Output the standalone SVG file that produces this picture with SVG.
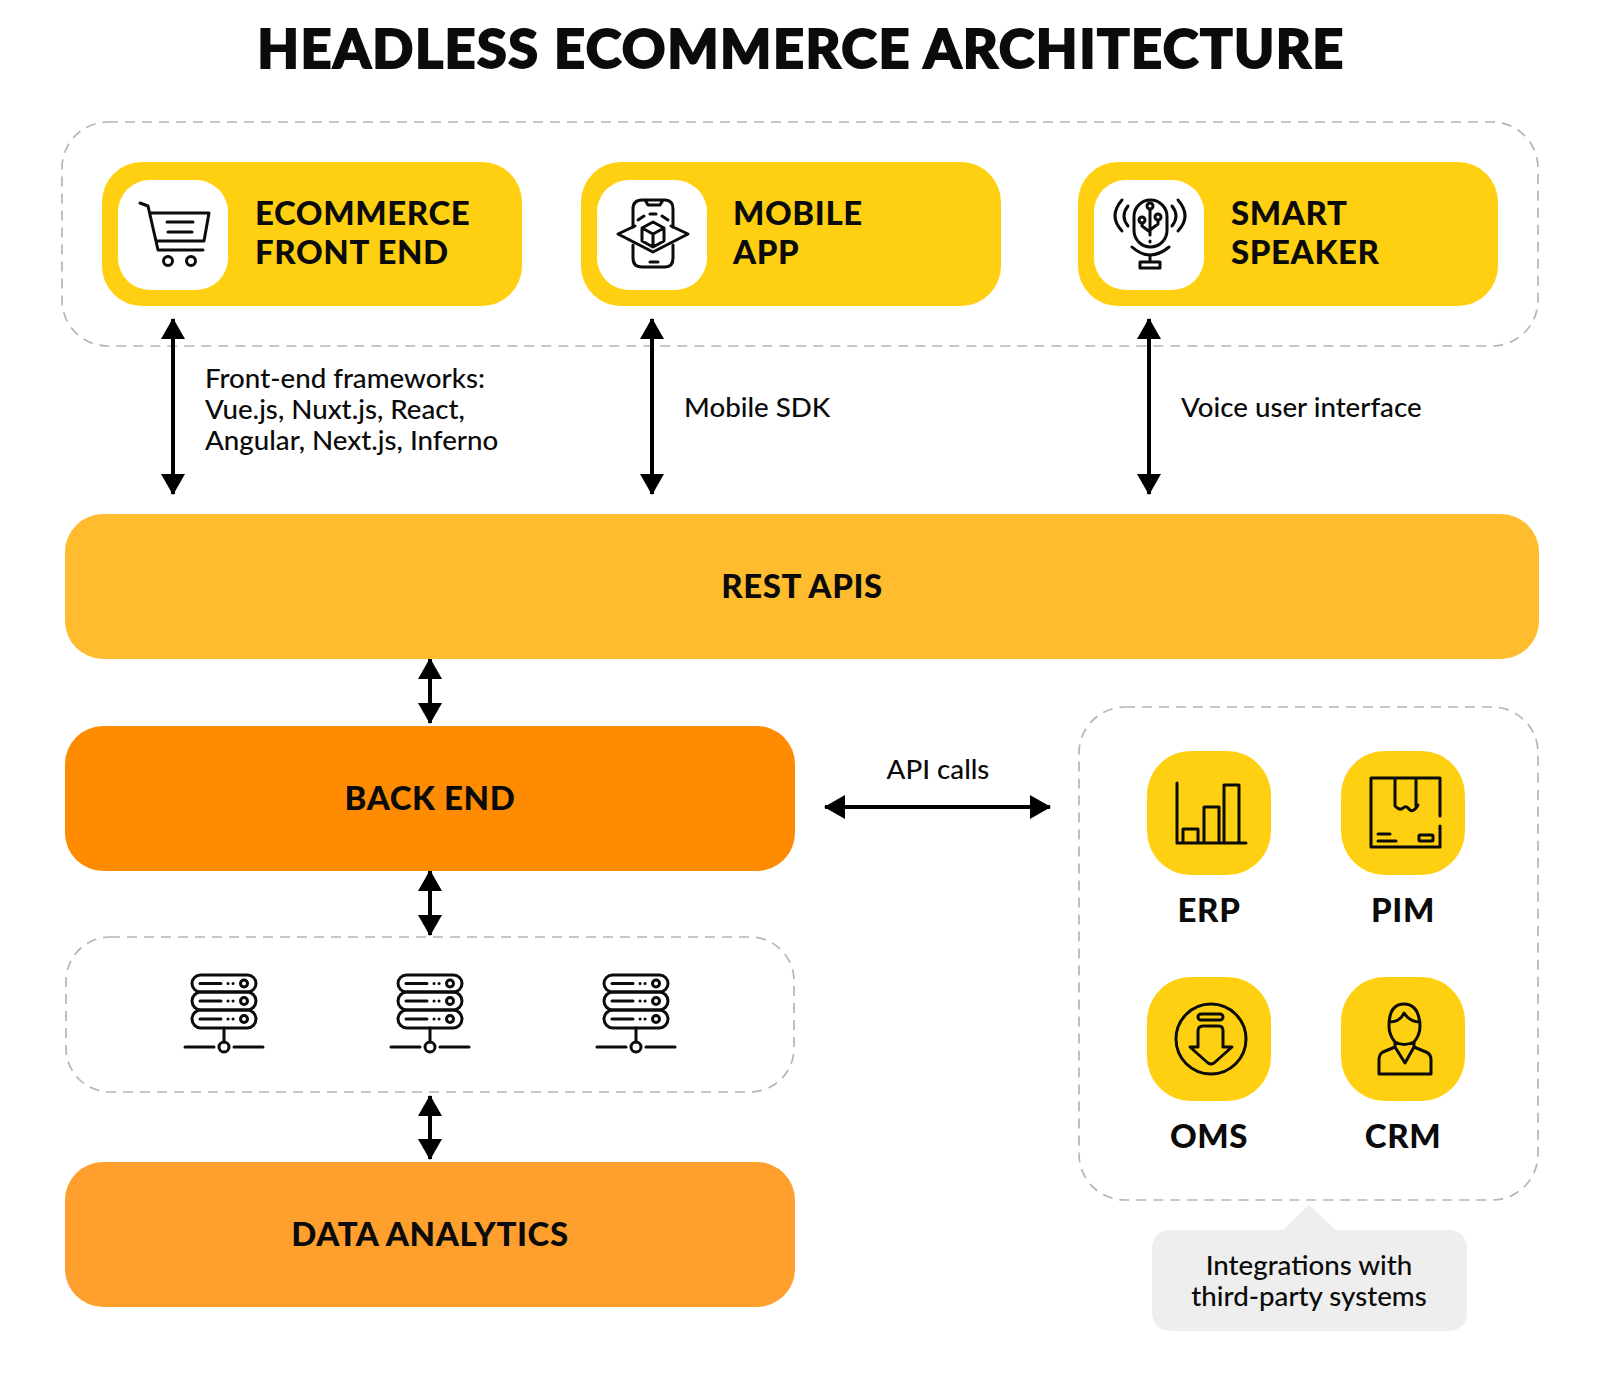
<svg xmlns="http://www.w3.org/2000/svg" width="1600" height="1378" viewBox="0 0 1600 1378">
<style>
text{font-family:"Lato","Liberation Sans",sans-serif;fill:#0b0b0b}
.title{font-size:54px;font-weight:900;text-anchor:middle;stroke:#0b0b0b;stroke-width:1.800px;letter-spacing:1.500px}
.h{font-size:33px;font-weight:900;letter-spacing:.6px}
.m{text-anchor:middle}
.t{font-size:27.700px;font-weight:500}
.dash{fill:none;stroke:#b5b5b5;stroke-width:1.7;stroke-dasharray:10 7}
.conn{stroke:#000;stroke-width:4;fill:none;marker-start:url(#a);marker-end:url(#a)}
.ic{fill:none;stroke:#0b0b0b;stroke-width:3;stroke-linecap:round;stroke-linejoin:round}
.y{fill:#ffd011}
</style>
<defs>
<marker id="a" markerUnits="userSpaceOnUse" markerWidth="24" markerHeight="24" refX="20" refY="12" orient="auto-start-reverse"><path d="M0 0L21 12L0 24Z" fill="#000"/></marker>
<g id="srv">
<rect x="-32" y="-37" width="64" height="17" rx="8.500"/><rect x="-32" y="-20" width="64" height="18" rx="9"/><rect x="-32" y="-2" width="64" height="18" rx="9"/>
<path d="M-24-28.500h21M4-28.500h.1M9-28.500h.1M-24-11h21M4-11h.1M9-11h.1M-24 7h21M4 7h.1M9 7h.1M0 16V30M-39 35H-10M10 35H39"/>
<circle cx="20" cy="-28.500" r="3.500"/><circle cx="20" cy="-11" r="3.500"/><circle cx="20" cy="7" r="3.500"/><circle cx="0" cy="35" r="5"/>
</g>
</defs>
<rect width="1600" height="1378" fill="#fff"/>
<text class="title" x="801" y="68">HEADLESS ECOMMERCE ARCHITECTURE</text>

<g id="clients-frame"><rect class="dash" x="62" y="122" width="1476" height="224" rx="46"/></g>

<g id="connectors">
<path class="conn" d="M173 319V494"/>
<path class="conn" d="M652 319V494"/>
<path class="conn" d="M1149 319V494"/>
<path class="conn" d="M430 659V723"/>
<path class="conn" d="M430 871V935"/>
<path class="conn" d="M430 1096V1159"/>
<path class="conn" d="M825 807H1050"/>
</g>

<g id="ecommerce-front-end">
<rect class="y" x="102" y="162" width="420" height="144" rx="40"/>
<rect x="118" y="180" width="110" height="110" rx="32" fill="#fff"/>
<path class="ic" d="M140 203L148 206L158 250H203M150 213H209L204 241H156M167 222H193M168 232H192"/>
<circle class="ic" cx="168" cy="261" r="4.500"/><circle class="ic" cx="191" cy="261" r="4.500"/>
<text class="h" x="255" y="225">ECOMMERCE</text><text class="h" x="255" y="264">FRONT END</text>
</g>

<g id="mobile-app">
<rect class="y" x="581" y="162" width="420" height="144" rx="40"/>
<rect x="597" y="180" width="110" height="110" rx="32" fill="#fff"/>
<path class="ic" d="M633 227V209Q633 200 642 200H665Q673 200 673 209V227M633 245V258Q633 267 642 267H665Q673 267 673 258V245M645 200L648 205H660L663 200M650 262H658M673 255V254"/>
<path class="ic" d="M635 226L618 234L653 252L688 234L671 226"/>
<path class="ic" d="M653 222L664 228V241L653 247L642 241V228ZM642 228L653 234L664 228M653 234V247M638 220L644 216M650 214H656M662 216L668 220"/>
<text class="h" x="733" y="225">MOBILE</text><text class="h" x="733" y="264">APP</text>
</g>

<g id="smart-speaker">
<rect class="y" x="1078" y="162" width="420" height="144" rx="40"/>
<rect x="1094" y="180" width="110" height="110" rx="32" fill="#fff"/>
<rect class="ic" x="1134" y="200" width="33" height="47" rx="16.500"/>
<path class="ic" d="M1150 209V235M1142 223V226L1150 232M1158 220V224L1150 230M1150 241V242M1132 247Q1150 263 1169 247M1150 255V262M1140 262H1160V268H1140Z"/>
<circle class="ic" cx="1150" cy="206" r="3"/><circle class="ic" cx="1142" cy="220" r="3"/><circle class="ic" cx="1158" cy="217" r="3"/>
<path class="ic" d="M1122 200Q1108 216 1122 231M1128 206Q1120 216 1128 226M1178 200Q1192 216 1178 231M1172 206Q1180 216 1172 226"/>
<text class="h" x="1231" y="225">SMART</text><text class="h" x="1231" y="264">SPEAKER</text>
</g>

<g id="labels">
<text class="t" x="205" y="388">Front-end frameworks:</text>
<text class="t" x="205" y="419">Vue.js, Nuxt.js, React,</text>
<text class="t" x="205" y="450">Angular, Next.js, Inferno</text>
<text class="t" x="684" y="417">Mobile SDK</text>
<text class="t" x="1181" y="417">Voice user interface</text>
<text class="t m" x="938" y="779">API calls</text>
</g>

<g id="rest-apis"><rect x="65" y="514" width="1474" height="145" rx="38" fill="#ffbc2e"/><text class="h m" x="802" y="598">REST APIS</text></g>
<g id="back-end"><rect x="65" y="726" width="730" height="145" rx="38" fill="#ff8c00"/><text class="h m" x="430" y="810">BACK END</text></g>
<g id="data-analytics"><rect x="65" y="1162" width="730" height="145" rx="38" fill="#ff9f2e"/><text class="h m" x="430" y="1246">DATA ANALYTICS</text></g>

<g id="servers">
<rect class="dash" x="66" y="937" width="728" height="155" rx="44"/>
<use href="#srv" class="ic" x="224" y="1012"/>
<use href="#srv" class="ic" x="430" y="1012"/>
<use href="#srv" class="ic" x="636" y="1012"/>
</g>

<g id="integrations-frame"><rect class="dash" x="1079" y="707" width="459" height="493" rx="46"/></g>

<g id="erp">
<rect class="y" x="1147" y="751" width="124" height="124" rx="44"/>
<path class="ic" d="M1177 783V843H1246M1183 843V829H1198V843M1204 843V807H1219V843M1224 843V785H1239V843"/>
<text class="h m" x="1209" y="922">ERP</text>
</g>
<g id="pim">
<rect class="y" x="1341" y="751" width="124" height="124" rx="44"/>
<path class="ic" d="M1440 826V847H1371V778H1440V816M1395 778V806Q1400 811 1403 808T1409 809T1416 808T1416 806V778M1378 834H1390M1378 841H1396"/>
<rect class="ic" x="1419" y="835" width="14" height="6" rx="1"/>
<text class="h m" x="1403" y="922">PIM</text>
</g>
<g id="oms">
<rect class="y" x="1147" y="977" width="124" height="124" rx="44"/>
<circle class="ic" cx="1211" cy="1039" r="35"/>
<rect class="ic" x="1198" y="1014" width="25" height="6" rx="3"/>
<path class="ic" d="M1198 1047V1031Q1198 1026 1203 1026H1219Q1223 1026 1223 1031V1047H1232L1214 1063Q1211 1065 1208 1063L1190 1047Z"/>
<text class="h m" x="1209" y="1148">OMS</text>
</g>
<g id="crm">
<rect class="y" x="1341" y="977" width="124" height="124" rx="44"/>
<path class="ic" d="M1389 1026Q1389 1004 1404 1004T1420 1026Q1420 1035 1414 1042Q1404 1047 1395 1042Q1389 1035 1389 1026ZM1389 1022Q1400 1022 1404 1013Q1410 1022 1420 1022M1395 1042V1047L1383 1052Q1379 1054 1379 1060V1074H1431V1060Q1431 1054 1426 1052L1414 1047V1042M1395 1047L1405 1063L1414 1047"/>
<text class="h m" x="1403" y="1148">CRM</text>
</g>

<g id="integrations-note">
<path d="M1172 1230H1283L1309 1205L1336 1230H1447Q1467 1230 1467 1250V1311Q1467 1331 1447 1331H1172Q1152 1331 1152 1311V1250Q1152 1230 1172 1230Z" fill="#eee"/>
<text class="t m" x="1309" y="1275">Integrations with</text>
<text class="t m" x="1309" y="1306">third-party systems</text>
</g>
</svg>
